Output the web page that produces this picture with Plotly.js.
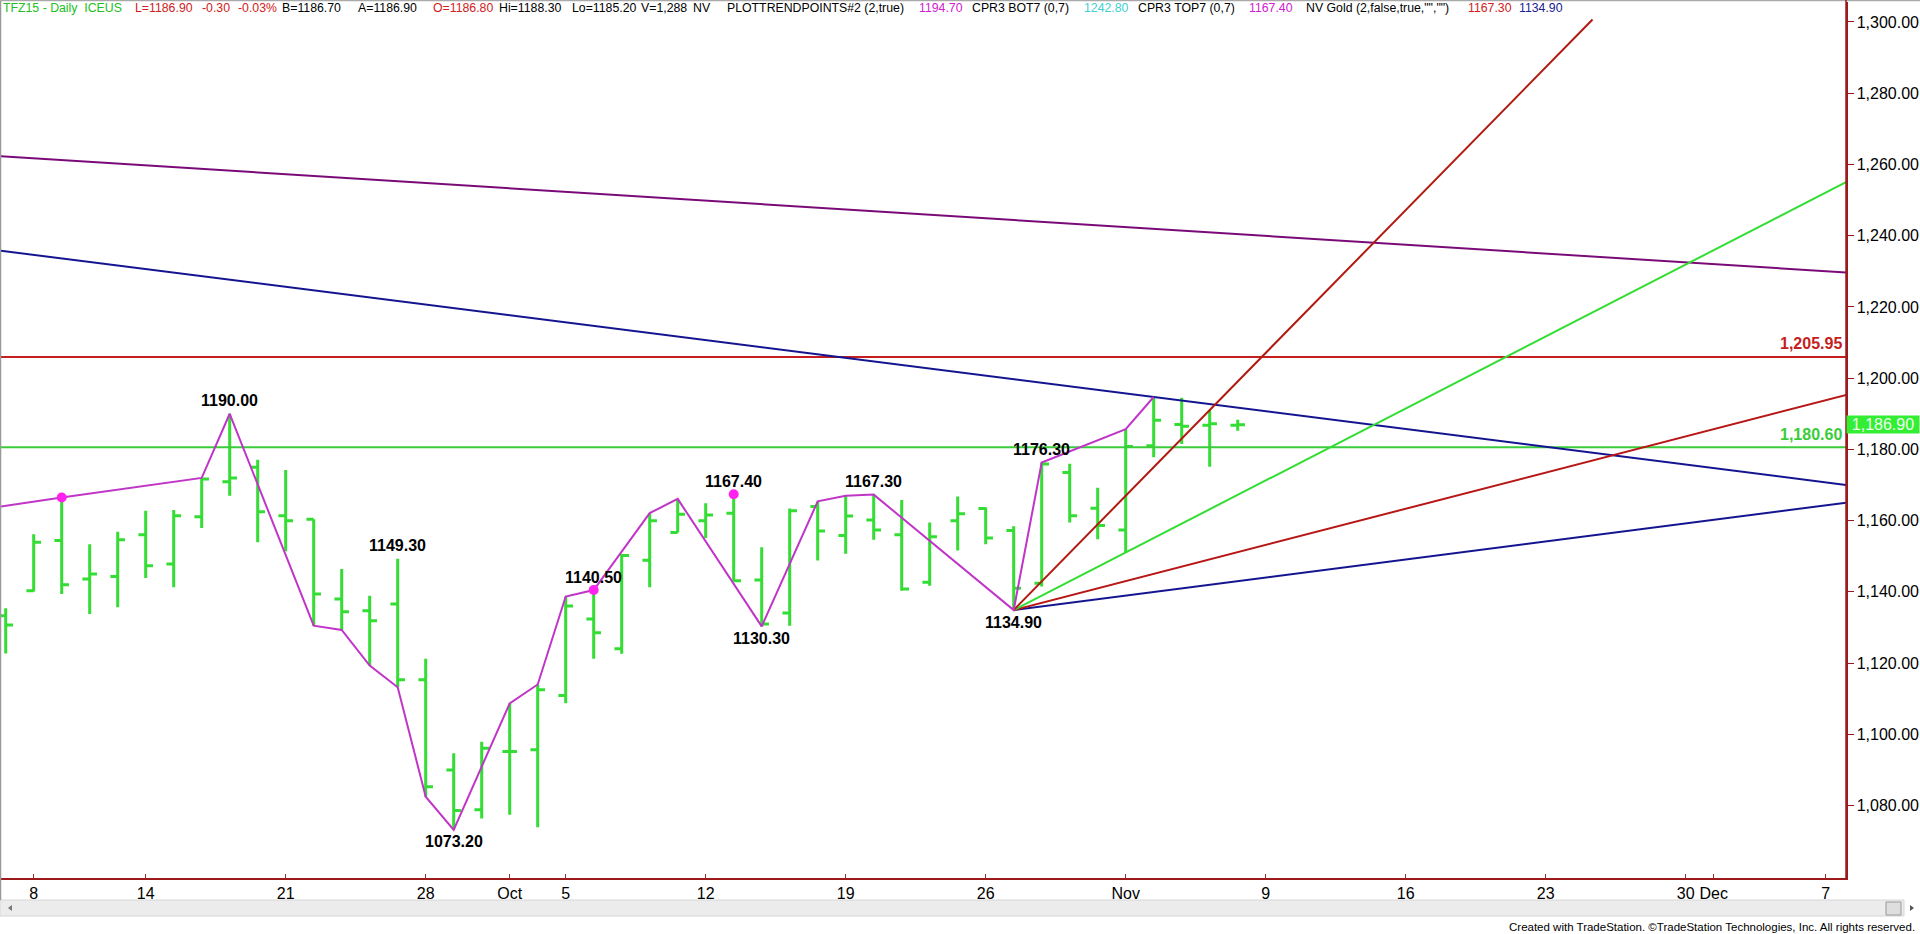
<!DOCTYPE html>
<html><head><meta charset="utf-8">
<script src="https://cdn.plot.ly/plotly-3.0.1.min.js"></script>
<style>html,body{margin:0;padding:0;background:#fff;overflow:hidden}</style>
</head><body><div id="chart" style="width:1920px;height:934px"></div>
<script>
// ---------- DATA ----------
const holidays = ['2015-09-07'];
const barDates = ['2015-09-04','2015-09-08','2015-09-09','2015-09-10','2015-09-11','2015-09-14','2015-09-15','2015-09-16','2015-09-17','2015-09-18',
 '2015-09-21','2015-09-22','2015-09-23','2015-09-24','2015-09-25','2015-09-28','2015-09-29','2015-09-30','2015-10-01','2015-10-02',
 '2015-10-05','2015-10-06','2015-10-07','2015-10-08','2015-10-09','2015-10-12','2015-10-13','2015-10-14','2015-10-15','2015-10-16',
 '2015-10-19','2015-10-20','2015-10-21','2015-10-22','2015-10-23','2015-10-26','2015-10-27','2015-10-28','2015-10-29','2015-10-30',
 '2015-11-02','2015-11-03','2015-11-04','2015-11-05','2015-11-06'];
const opens  = [1133.3,1140.3,1154.4,1143.6,1144.3,1156.0,1147.8,1161.1,1170.9,1175.0,
 1161.4,1160.4,1138.0,1134.7,1136.6,1115.3,1090.0,1078.8,1095.2,1095.7,
 1110.9,1132.4,1124.0,1148.9,1156.7,1160.0,1162.1,1143.3,1134.1,1164.0,
 1155.8,1160.2,1156.0,1142.7,1160.0,1163.4,1157.2,1142.4,1173.5,1163.5,
 1157.4,1181.0,1187.0,1186.8,1186.8];
const highs  = [1135.4,1156.2,1166.5,1153.4,1156.9,1162.8,1163.0,1172.0,1190.0,1177.1,
 1174.2,1160.4,1146.4,1138.9,1149.3,1121.2,1094.7,1097.9,1108.7,1114.0,
 1138.7,1140.5,1150.6,1162.1,1166.1,1164.9,1167.4,1152.5,1163.4,1165.4,
 1167.0,1167.3,1165.8,1159.5,1166.8,1163.7,1158.4,1176.3,1176.0,1169.2,
 1185.7,1194.7,1194.5,1191.0,1188.3];
const lows   = [1122.7,1140.1,1139.4,1133.8,1135.7,1143.9,1141.3,1157.9,1167.0,1153.9,
 1151.4,1130.5,1129.3,1119.3,1113.2,1082.5,1073.2,1076.4,1077.4,1073.9,
 1108.7,1121.2,1122.6,1141.3,1156.7,1155.1,1142.9,1130.3,1130.5,1148.8,
 1150.7,1154.6,1140.3,1141.7,1151.6,1153.4,1134.9,1141.5,1159.5,1154.8,
 1151.1,1177.8,1181.5,1175.1,1185.2];
const closes = [1130.7,1153.9,1142.0,1145.0,1154.6,1147.3,1161.4,1171.7,1172.0,1162.5,
 1160.0,1139.4,1134.4,1131.9,1115.3,1085.3,1078.6,1096.1,1095.2,1112.5,
 1136.0,1128.5,1150.2,1160.0,1161.8,1161.6,1143.1,1131.0,1162.8,1157.1,
 1161.3,1157.4,1140.8,1155.5,1161.9,1155.1,1141.0,1175.9,1161.4,1158.6,
 1180.8,1188.2,1186.5,1187.2,1186.9];

const zigDates  = ['2015-09-03','2015-09-09','2015-09-16','2015-09-17','2015-09-22','2015-09-23','2015-09-24','2015-09-25','2015-09-28','2015-09-29',
 '2015-10-01','2015-10-02','2015-10-05','2015-10-06','2015-10-08','2015-10-09','2015-10-14','2015-10-16','2015-10-19','2015-10-20',
 '2015-10-27','2015-10-28','2015-11-02','2015-11-03'];
const zigPrices = [1163.0,1166.5,1172.0,1190.0,1130.5,1129.3,1119.3,1113.2,1082.5,1073.2,
 1108.7,1114.0,1138.7,1140.5,1162.1,1166.1,1130.3,1165.4,1167.0,1167.3,
 1134.9,1176.3,1185.7,1194.7];

const dotDates  = ['2015-09-09','2015-10-06','2015-10-13'];
const dotPrices = [1166.5,1140.5,1167.4];

const pivotDates  = ['2015-09-17','2015-09-25','2015-09-29','2015-10-06','2015-10-13','2015-10-14','2015-10-20','2015-10-28','2015-10-27'];
const pivotPrices = [1190.00,1149.30,1073.20,1140.50,1167.40,1130.30,1167.30,1176.30,1134.90];
const pivotLabels = ['1190.00','1149.30','1073.20','1140.50','1167.40','1130.30','1167.30','1176.30','1134.90'];
const pivotAbove  = [true,true,false,true,true,false,true,true,false];

const levelPrices = [1205.95, 1180.60];
const levelLabels = ['1,205.95', '1,180.60'];

// trend lines: two read points each
const trendStartDates  = ['2015-09-04','2015-09-04','2015-10-27','2015-10-27','2015-10-27','2015-10-27'];
const trendStartPrices = [1262.2, 1235.6, 1134.9, 1134.9, 1134.9, 1134.9];
const trendEndDates    = ['2015-12-01','2015-11-03','2015-12-07','2015-12-07','2015-12-07','2015-11-24'];
const trendEndPrices   = [1232.0, 1194.7, 1164.3, 1193.8, 1252.1, 1295.3];
const trendStopPrices  = [null, null, null, null, null, 1300.7];

const tickDates  = ['2015-09-08','2015-09-14','2015-09-21','2015-09-28','2015-10-01','2015-10-05','2015-10-12','2015-10-19',
 '2015-10-26','2015-11-02','2015-11-09','2015-11-16','2015-11-23','2015-11-30','2015-12-01','2015-12-07'];
const tickLabels = ['8','14','21','28','Oct','5','12','19','26','Nov','9','16','23','30','Dec','7'];
const yTickVals = [1080,1100,1120,1140,1160,1180,1200,1220,1240,1260,1280,1300];
const lastPrice = 1186.90;

const headerTexts  = ['TFZ15 - Daily  ICEUS','L=1186.90','-0.30','-0.03%','B=1186.70','A=1186.90','O=1186.80','Hi=1188.30','Lo=1185.20','V=1,288',
 'NV','PLOTTRENDPOINTS#2 (2,true)','1194.70','CPR3 BOT7 (0,7)','1242.80','CPR3 TOP7 (0,7)','1167.40','NV Gold (2,false,true,"","")','1167.30','1134.90'];

// ---------- STYLE / LAYOUT ----------
const headerX      = [2,134,201,237,281,357,432,498,571,640,692,726,918,971,1083,1137,1248,1305,1467,1518];
const headerColors = ['#22C022','#D02020','#D02020','#D02020','#000','#000','#D02020','#000','#000','#000',
 '#000','#000','#D020D0','#000','#40D0D0','#000','#D020D0','#000','#D02020','#202090'];
const trendColors = ['#7A0A78','#141490','#141490','#B81616','#33DD33','#B01A10'];
const FONT = 'Liberation Sans, Arial, sans-serif';
const BAR_GREEN = '#33DD33';

const L = 1, T = 2, R = 1846, B = 878;
const pxX = X => (X - L) / (R - L);
const pxY = Y => (B - Y) / (B - T);

function tradingIndex(ds) {
  const base = Date.UTC(2015, 8, 8);
  const t = Date.parse(ds + 'T00:00:00Z');
  const step = t >= base ? 1 : -1;
  let d = base, n = 0;
  while (d !== t) {
    d += step * 86400000;
    const dt = new Date(d), wd = dt.getUTCDay(), s = dt.toISOString().slice(0, 10);
    if (wd !== 0 && wd !== 6 && !holidays.includes(s)) n += step;
  }
  return n;
}
const xMin = (L - 33.7) / 28, xMax = (R - 33.7) / 28;
const barX = barDates.map(tradingIndex);

const traces = [];
traces.push({type:'ohlc', x:barX, open:opens, high:highs, low:lows, close:closes,
  increasing:{line:{color:BAR_GREEN, width:3}}, decreasing:{line:{color:BAR_GREEN, width:3}},
  tickwidth:0.26, hoverinfo:'skip', showlegend:false});

// horizontal levels
const levelColors = ['#C41E1E', '#3ACC3A'];
levelPrices.forEach((v, k) => traces.push({type:'scatter', mode:'lines', x:[xMin, xMax], y:[v, v],
  line:{color:levelColors[k], width:2}, hoverinfo:'skip', showlegend:false}));

// trend lines
trendStartDates.forEach((sd, k) => {
  const x0 = tradingIndex(sd), y0 = trendStartPrices[k];
  const x1 = tradingIndex(trendEndDates[k]), y1 = trendEndPrices[k];
  const m = (y1 - y0) / (x1 - x0);
  const xs = (sd === '2015-09-04') ? xMin - 0.5 : x0;
  let xe = xMax + 0.5;
  if (trendStopPrices[k] != null) xe = x0 + (trendStopPrices[k] - y0) / m;
  traces.push({type:'scatter', mode:'lines', x:[xs, xe], y:[y0 + m * (xs - x0), y0 + m * (xe - x0)],
    line:{color:trendColors[k], width:2}, hoverinfo:'skip', showlegend:false});
});

// zigzag
traces.push({type:'scatter', mode:'lines', x:zigDates.map(tradingIndex), y:zigPrices,
  line:{color:'#C035C8', width:2}, hoverinfo:'skip', showlegend:false});
traces.push({type:'scatter', mode:'markers', x:dotDates.map(tradingIndex), y:dotPrices,
  marker:{color:'#FF22EE', size:10, line:{width:0}}, hoverinfo:'skip', showlegend:false, cliponaxis:false});

const annotations = [];
pivotLabels.forEach((t, k) => annotations.push({x:tradingIndex(pivotDates[k]), y:pivotPrices[k], xref:'x', yref:'y',
  text:'<b>' + t + '</b>', showarrow:false, yanchor:'middle', yshift: pivotAbove[k] ? 13 : -12,
  font:{family:FONT, size:16, color:'#000'}}));
levelLabels.forEach((t, k) => annotations.push({x:pxX(1844), xref:'paper', xanchor:'right', y:levelPrices[k], yref:'y',
  yshift:13, text:'<b>' + t + '</b>', showarrow:false, font:{family:FONT, size:16, color:levelColors[k]}}));
annotations.push({x:1, xref:'paper', xanchor:'left', y:lastPrice, yref:'y', text:'1,186.90', showarrow:false,
  bgcolor:'#33EE33', width:72, height:17, borderpad:0, align:'center', font:{family:FONT, size:16, color:'#EEFFEE'}});
headerTexts.forEach((t, k) => annotations.push({x:pxX(headerX[k]), xref:'paper', xanchor:'left', y:pxY(8), yref:'paper',
  yanchor:'middle', text:t.replace(/ /g, '\u00a0'), showarrow:false, borderpad:0, font:{family:FONT, size:12.3, color:headerColors[k]}}));
annotations.push({x:pxX(1917), xref:'paper', xanchor:'right', y:pxY(927), yref:'paper', yanchor:'middle',
  text:'Created with TradeStation. \u00a9TradeStation Technologies, Inc. All rights reserved.', showarrow:false,
  font:{family:FONT, size:11.5, color:'#000'}});

const shapes = [
  {type:'rect', xref:'paper', yref:'paper', x0:pxX(0), x1:pxX(1904), y0:pxY(900), y1:pxY(916), fillcolor:'#ECECEC', line:{color:'#D6D6D6', width:1}},
  {type:'rect', xref:'paper', yref:'paper', x0:pxX(1886), x1:pxX(1901), y0:pxY(902), y1:pxY(915), fillcolor:'#DEDEDE', line:{color:'#9A9A9A', width:1}},
  {type:'path', xref:'paper', yref:'paper', path:`M ${pxX(1910)} ${pxY(905)} L ${pxX(1914)} ${pxY(908)} L ${pxX(1910)} ${pxY(911)} Z`, fillcolor:'#555', line:{width:0}},
  {type:'path', xref:'paper', yref:'paper', path:`M ${pxX(12)} ${pxY(905)} L ${pxX(8)} ${pxY(908)} L ${pxX(12)} ${pxY(911)} Z`, fillcolor:'#777', line:{width:0}},
  {type:'line', xref:'paper', yref:'paper', x0:pxX(0.5), x1:pxX(0.5), y0:pxY(0), y1:pxY(900), line:{color:'#999', width:1.5}},
  {type:'line', xref:'paper', yref:'paper', x0:pxX(0), x1:pxX(1920), y0:pxY(0.5), y1:pxY(0.5), line:{color:'#AAA', width:1.5}},
  {type:'line', xref:'paper', yref:'paper', x0:1, x1:1, y0:pxY(0), y1:0, line:{color:'#9B1B1B', width:1.5}}
];

const layout = {
  width:1920, height:934, margin:{l:L, r:1920 - R, t:T, b:934 - B, pad:0},
  paper_bgcolor:'#fff', plot_bgcolor:'#fff', showlegend:false, dragmode:false,
  xaxis:{range:[xMin, xMax], tickvals:tickDates.map(tradingIndex), ticktext:tickLabels, ticks:'inside', ticklen:4,
    tickcolor:'#A03030', showline:true, linecolor:'#9B1B1B', linewidth:1.5, showgrid:false, zeroline:false,
    rangeslider:{visible:false}, tickfont:{family:FONT, size:16, color:'#000'}, fixedrange:true},
  yaxis:{side:'right', range:[1059.67, 1305.6], tickvals:yTickVals, tickformat:',.2f', ticks:'outside', ticklen:6,
    tickcolor:'#9B1B1B', showline:true, linecolor:'#9B1B1B', linewidth:1.5, showgrid:false, zeroline:false,
    tickfont:{family:FONT, size:16, color:'#000'}, fixedrange:true},
  annotations, shapes
};
Plotly.newPlot('chart', traces, layout, {displayModeBar:false, staticPlot:true});
</script></body></html>
